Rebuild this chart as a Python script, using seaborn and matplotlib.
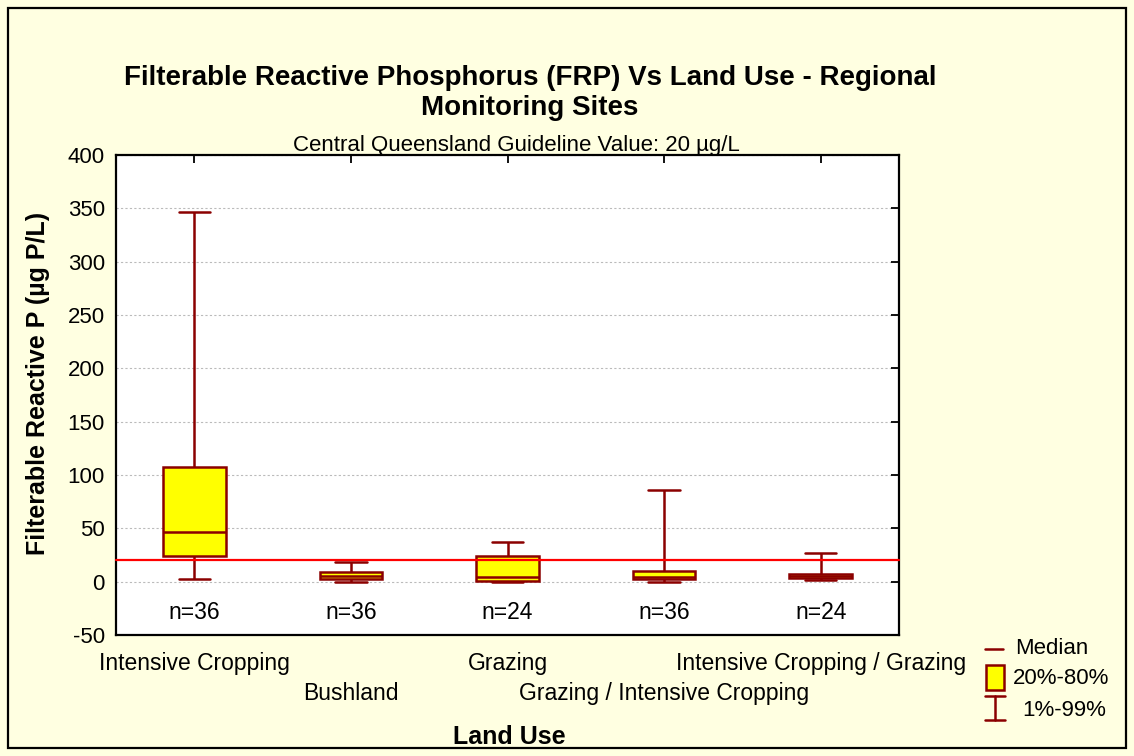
import numpy as np
import pandas as pd
import matplotlib
matplotlib.use("Agg")
import matplotlib.pyplot as plt
import seaborn as sns
from matplotlib.lines import Line2D
from matplotlib.patches import Rectangle

# =========================
# DATA
# =========================

land_use = [
    "Intensive Cropping",
    "Bushland",
    "Grazing",
    "Grazing / Intensive Cropping",
    "Intensive Cropping / Grazing",
]
p01 = [2.2, 0.0, 0.0, 0.0, 1.6]
p20 = [24.1, 2.2, 0.4, 2.2, 3.2]
median = [46.9, 5.6, 4.4, 4.7, 5.0]
p80 = [107.8, 9.4, 24.1, 10.3, 7.2]
p99 = [346.9, 18.2, 37.2, 85.7, 27.2]
n_samples = [36, 36, 24, 36, 24]
guideline = 20

# five summary values per group -> with whis=(0, 100) the quartiles of
# these five points are exactly the 20% / 80% values
rows = []
for i, name in enumerate(land_use):
    for v in (p01[i], p20[i], median[i], p80[i], p99[i]):
        rows.append({"Land Use": name, "FRP": v})
df = pd.DataFrame(rows)

# =========================
# STYLE
# =========================

sns.set_style("white")
plt.rcParams["font.family"] = ["Liberation Sans", "DejaVu Sans"]
plt.rcParams["axes.unicode_minus"] = False
for key in ("text.color", "axes.labelcolor", "xtick.color", "ytick.color"):
    plt.rcParams[key] = "black"

BG = "#FFFFE1"
DARKRED = "#8B0000"

fig = plt.figure(figsize=(11.34, 7.56), dpi=100, facecolor=BG)
ax = fig.add_axes([116 / 1134, 1 - 635 / 756, (899 - 116) / 1134, (635 - 155) / 756])
ax.set_facecolor("white")

# =========================
# BOXES
# =========================

sns.boxplot(
    data=df,
    x="Land Use",
    y="FRP",
    order=land_use,
    whis=(0, 100),
    width=0.4,
    color="#FFFF00",
    saturation=1,
    linecolor=DARKRED,
    linewidth=1.8,
    showfliers=False,
    ax=ax,
)

ax.axhline(guideline, color="#FF0000", lw=1.6, zorder=5, clip_on=False)

for i, n in enumerate(n_samples):
    ax.text(i, -29, f"n={n}", ha="center", va="center", fontsize=16.5)

# =========================
# AXES
# =========================

ax.set_ylim(-50, 400)
ax.set_xlim(-0.5, len(land_use) - 0.5)
ax.set_yticks(np.arange(-50, 401, 50))
ax.yaxis.grid(True, linestyle=(0, (2, 2)), color="#BBBBBB", lw=0.8)
ax.set_axisbelow(True)

ax.set_xticks(range(len(land_use)))
ax.set_xticklabels(land_use, fontsize=16.5)
ax.tick_params(axis="y", labelsize=16)
ax.tick_params(direction="in", top=True, right=True, length=6, width=1.3, pad=8)
ax.tick_params(axis="x", pad=12.5)
# staggered category labels
for i, tick in enumerate(ax.xaxis.get_major_ticks()):
    if i % 2 == 1:
        tick.set_pad(34)
ax.set_xlabel("")
ax.set_ylabel("")
for s in ax.spines.values():
    s.set_color("black")
    s.set_linewidth(1.6)

# =========================
# TEXT
# =========================

fig.text(530 / 1134, 1 - 93 / 756,
         "Filterable Reactive Phosphorus (FRP) Vs Land Use - Regional\nMonitoring Sites",
         ha="center", va="center", fontsize=20, fontweight="bold", linespacing=1.2)
fig.text(516 / 1134, 1 - 145 / 756, "Central Queensland Guideline Value: 20 µg/L",
         ha="center", va="center", fontsize=16)
fig.text(38 / 1134, 1 - 383 / 756, "Filterable Reactive P (µg P/L)",
         ha="center", va="center", rotation=90, fontsize=18, fontweight="bold")
fig.text(509 / 1134, 1 - 737 / 756, "Land Use",
         ha="center", va="center", fontsize=18, fontweight="bold")

# =========================
# LEGEND (hand drawn)
# =========================

def fx(px):
    return px / 1134


def fy(py):
    return 1 - py / 756


fig.add_artist(Line2D([fx(985), fx(1003)], [fy(649), fy(649)], color=DARKRED, lw=1.8))
fig.text(fx(1015), fy(649), "Median", va="center", fontsize=16)
fig.add_artist(Rectangle((fx(986), fy(690)), fx(18), 25 / 756, facecolor="#FFFF00",
                         edgecolor=DARKRED, lw=1.8))
fig.text(fx(1013), fy(678), "20%-80%", va="center", fontsize=16)
fig.add_artist(Line2D([fx(995), fx(995)], [fy(696), fy(720)], color=DARKRED, lw=1.8))
fig.add_artist(Line2D([fx(985), fx(1005)], [fy(696), fy(696)], color=DARKRED, lw=1.8))
fig.add_artist(Line2D([fx(985), fx(1005)], [fy(720), fy(720)], color=DARKRED, lw=1.8))
fig.text(fx(1022), fy(710), "1%-99%", va="center", fontsize=16)

# outer frame
fig.add_artist(Rectangle((fx(8), fy(748)), fx(1118), 740 / 756, fill=False,
                         edgecolor="black", lw=1.6))

plt.savefig("out.png", dpi=100, facecolor=BG)
